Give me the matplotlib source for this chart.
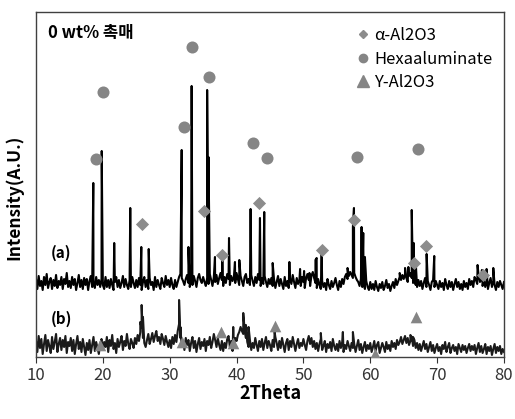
import numpy as np
import matplotlib
matplotlib.use('Agg')
import matplotlib.pyplot as plt
from matplotlib.lines import Line2D

plt.rcParams['font.family'] = ['Noto Sans CJK KR', 'DejaVu Sans']

# scan grid: 10..80 deg, 0.2 deg step
two_theta = np.round(np.arange(10, 80.001, 0.2), 1)

# background (with noise) of pattern (a)
base_a = [
    78, 68, 81, 71, 76, 67, 80, 72, 83, 69, 75, 79, 68, 77, 71, 82, 69, 76, 72, 80, 68, 78, 73, 84, 70,
    76, 69, 80, 72, 78, 67, 74, 82, 70, 77, 68, 79, 72, 78, 67, 76, 81, 70, 75, 69, 80, 72, 77, 70, 78,
    72, 68, 80, 70, 77, 69, 78, 72, 67, 75, 80, 70, 77, 69, 74, 81, 70, 78, 72, 68, 77, 70, 80, 74, 69,
    77, 70, 79, 72, 67, 75, 80, 70, 77, 68, 79, 72, 75, 67, 80, 70, 77, 72, 68, 79, 74, 70, 81, 72, 77,
    70, 79, 72, 68, 77, 70, 75, 80, 83, 79, 76, 72, 78, 82, 74, 70, 78, 72, 81, 76, 70, 79, 83, 77, 74,
    80, 75, 71, 79, 73, 83, 77, 71, 80, 75, 82, 73, 79, 84, 77, 71, 80, 74, 83, 78, 72, 81, 76, 80, 74,
    84, 78, 72, 81, 76, 71, 80, 83, 74, 78, 72, 82, 76, 71, 80, 74, 83, 77, 71, 79, 73, 81, 75, 70, 78,
    73, 79, 71, 78, 69, 75, 81, 71, 78, 73, 68, 80, 71, 76, 69, 78, 73, 82, 75, 69, 79, 73, 77, 71, 80,
    75, 69, 79, 83, 77, 71, 81, 85, 79, 74, 69, 78, 72, 68, 76, 70, 74, 67, 78, 72, 68, 76, 70, 74, 79,
    72, 67, 76, 70, 78, 73, 80, 83, 78, 81, 85, 82, 79, 84, 80, 77, 75, 71, 78, 70, 74, 68, 76, 70, 67,
    75, 68, 73, 67, 76, 70, 66, 73, 69, 75, 67, 71, 77, 69, 73, 66, 71, 75, 69, 78, 72, 76, 80, 77, 82,
    78, 83, 79, 75, 81, 84, 79, 74, 78, 72, 70, 77, 71, 76, 68, 74, 79, 70, 76, 72, 67, 75, 77, 70, 76,
    72, 68, 76, 70, 74, 67, 78, 72, 68, 76, 70, 75, 67, 73, 78, 70, 75, 68, 73, 67, 76, 70, 74, 68, 78,
    72, 76, 70, 80, 77, 73, 82, 75, 78, 71, 77, 70, 76, 68, 74, 79, 70, 76, 72, 67, 75, 70, 76, 72, 68, 75,
]

# background (with noise) of pattern (b)
base_b = [
    16, 5, 21, 9, 18, 3, 13, 22, 6, 17, 11, 4, 20, 8, 15, 23, 5, 13, 19, 7, 17, 10, 21, 4, 15,
    11, 19, 6, 17, 3, 13, 21, 8, 15, 5, 18, 10, 2, 14, 7, 17, 4, 12, 20, 6, 15, 9, 3, 13, 18,
    7, 15, 10, 20, 5, 17, 11, 22, 8, 14, 4, 18, 10, 15, 21, 7, 16, 11, 23, 13, 8, 18, 14, 9, 19,
    13, 22, 16, 25, 29, 19, 14, 10, 17, 23, 13, 18, 24, 15, 21, 26, 16, 20, 13, 23, 18, 12, 21, 15, 10,
    17, 9, 20, 13, 22, 15, 26, 33, 19, 10, 16, 7, 19, 12, 17, 6, 14, 20, 9, 16, 5, 13, 19, 8, 15,
    11, 18, 6, 16, 12, 20, 9, 15, 23, 17, 10, 19, 12, 7, 16, 6, 14, 9, 18, 21, 10, 16, 6, 13, 19,
    16, 22, 25, 30, 26, 23, 28, 19, 15, 10, 17, 7, 14, 9, 19, 12, 6, 16, 10, 18, 7, 14, 20, 9, 16,
    12, 6, 17, 10, 20, 14, 7, 16, 9, 19, 12, 5, 14, 18, 7, 16, 10, 20, 13, 6, 13, 18, 9, 14, 11,
    18, 12, 7, 16, 21, 13, 19, 10, 16, 8, 14, 6, 13, 18, 7, 11, 16, 5, 13, 9, 15, 6, 18, 11, 7,
    13, 6, 16, 9, 15, 5, 12, 8, 16, 11, 6, 14, 9, 13, 5, 11, 17, 7, 13, 4, 10, 15, 6, 12, 8,
    14, 5, 10, 16, 6, 12, 15, 4, 9, 14, 10, 5, 15, 8, 12, 6, 16, 10, 14, 8, 17, 12, 15, 20, 13,
    17, 21, 14, 19, 12, 16, 20, 11, 17, 9, 14, 7, 13, 6, 11, 16, 8, 13, 5, 10, 15, 6, 12, 4, 9,
    13, 6, 10, 3, 12, 8, 15, 5, 10, 14, 4, 9, 12, 6, 10, 3, 13, 9, 5, 12, 7, 11, 4, 9, 13,
    6, 11, 7, 12, 3, 9, 14, 5, 11, 4, 8, 13, 3, 10, 6, 11, 2, 8, 13, 4, 10, 6, 11, 3, 8, 5,
]

# peak tops (2theta, intensity)
peaks_a_x = [18.57, 19.83, 21.7, 24.1, 25.75, 26.86, 31.79, 32.8, 33.28, 35.6, 35.8,
             36.77, 37.87, 38.87, 39.76, 40.41, 42.1, 43.5, 44.14, 45.4, 47.9,
             49.5, 50.1, 50.9, 51.8, 51.98, 52.73, 56.6, 57.4, 57.56, 58.7, 58.95, 59.2,
             64.4, 65.2, 65.7, 66.2, 66.5, 66.8, 68.43, 69.57, 76.05, 76.7, 77.4, 78.4]
peaks_a_y = [174, 206, 114, 149, 110, 108, 207, 110, 271, 267, 200,
             100, 99, 119, 95, 97, 148, 139, 145, 94, 95,
             88, 86, 84, 97, 99, 105, 89, 130, 149, 130, 124, 100,
             84, 89, 90, 147, 114, 95, 103, 101, 92, 87, 88, 89]

peaks_b_x = [25.6, 25.8, 26.0, 31.4, 31.6, 39.5, 41.0, 41.4, 41.8, 45.7, 52.6, 55.9, 57.4, 66.0, 66.4]
peaks_b_y = [35, 52, 40, 57, 30, 30, 44, 32, 30, 25, 24, 25, 25, 22, 20]

# phase markers
hexa_x = [18.93, 20.07, 32.13, 33.38, 35.87, 42.5, 44.6, 58.06, 67.09]
hexa_y = [198, 265, 230, 310, 280, 214, 199, 200, 208]
alpha_x = [25.8, 35.1, 37.8, 43.4, 52.73, 57.6, 66.6, 68.3, 76.9]
alpha_y = [133, 146, 102, 154, 107, 137, 94, 111, 82]
gamma_x = [19.57, 31.9, 37.6, 39.4, 45.7, 60.7, 66.8]
gamma_y = [12, 15, 25, 14, 31, 3, 40]


def merge(x, y, px, py):
    xs = np.concatenate([x, px])
    ys = np.concatenate([y, py])
    order = np.argsort(xs, kind='stable')
    return xs[order], ys[order]


xa, ya = merge(two_theta, np.array(base_a, float), peaks_a_x, peaks_a_y)
xb, yb = merge(two_theta, np.array(base_b, float), peaks_b_x, peaks_b_y)

fig = plt.figure(figsize=(5.15, 4.19), dpi=100)
ax = fig.add_axes([0.0699, 0.148, 0.9087, 0.8234])

ax.plot(xa, ya, color='black', lw=1.5)
ax.plot(xb, yb, color='#1a1a1a', lw=1.5)

gray = '#858585'
ax.scatter(alpha_x, alpha_y, marker='D', s=45, color='#8c8c8c', zorder=3, lw=0)
ax.scatter(hexa_x, hexa_y, marker='o', s=75, color=gray, zorder=3, lw=0)
ax.scatter(gamma_x, gamma_y, marker='^', s=70, color=gray, zorder=3, lw=0)

ax.text(0.026, 0.939, '0 wt% 촉매', transform=ax.transAxes, fontsize=12,
        fontweight='bold', va='center', ha='left')
ax.text(13.7, 104, '(a)', fontsize=11, fontweight='bold', ha='center', va='center')
ax.text(13.8, 38, '(b)', fontsize=11, fontweight='bold', ha='center', va='center')

handles = [
    Line2D([], [], marker='D', ls='', color='#8c8c8c', markersize=4),
    Line2D([], [], marker='o', ls='', color=gray, markersize=6),
    Line2D([], [], marker='^', ls='', color=gray, markersize=8),
]
ax.legend(handles, ['α-Al2O3', 'Hexaaluminate', 'Y-Al2O3'], loc='upper left',
          bbox_to_anchor=(0.645, 1.0), frameon=False, fontsize=12,
          handletextpad=0.1, labelspacing=0.4, handlelength=1.2)

ax.set_xlim(10, 80)
ax.set_ylim(0, 345)
ax.set_xticks(range(10, 81, 10))
ax.set_yticks([])
ax.tick_params(axis='x', direction='out', length=4, labelsize=12, colors='#333333')
for s in ax.spines.values():
    s.set_color('#404040')
    s.set_linewidth(1.0)

ax.set_xlabel('2Theta', fontsize=13, fontweight='bold', labelpad=0)
ax.set_ylabel('Intensity(A.U.)', fontsize=12.5, fontweight='bold')
ax.yaxis.set_label_coords(-0.028, 0.464)

fig.savefig('out.png', dpi=100)
